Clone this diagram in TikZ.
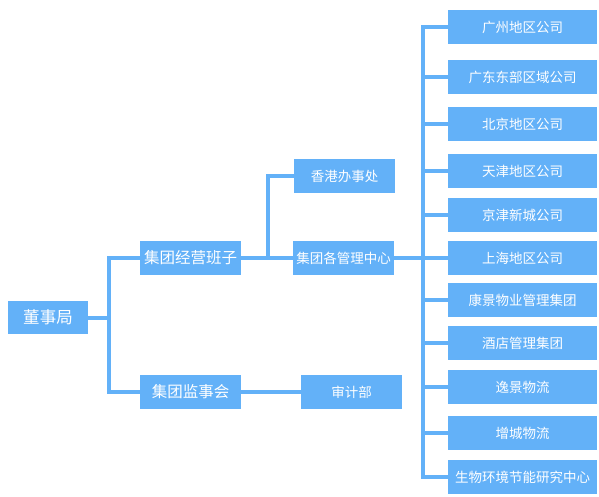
\documentclass[tikz,border=0pt]{standalone}
\usepackage{fontspec}
\setmainfont{Noto Sans CJK SC}
\usepackage{xcolor}
\usepackage{tikz}
\usetikzlibrary{positioning,calc}

\definecolor{boxblue}{RGB}{99,177,248}

\begin{document}
\begin{tikzpicture}[x=1pt, y=-1pt,
  unit/.style={fill=boxblue, text=white, minimum height=34pt, inner sep=0pt, align=center},
  small/.style={unit, minimum width=101pt, font=\fontsize{13.5}{15}\selectfont},
  mid/.style={unit, minimum width=101pt, font=\fontsize{15.5}{17}\selectfont},
  sub/.style={unit, minimum width=149pt, font=\fontsize{13.5}{15}\selectfont},
  link/.style={draw=boxblue, line width=4pt}
]
\useasboundingbox (0,0) rectangle (599,496);
% left part
\node[unit, minimum width=80pt, minimum height=33pt, font=\fontsize{16.5}{18}\selectfont] (board) at (48,317.5) {董事局};
\node[mid] (ops) at (190.5,258) {集团经营班子};
\node[mid] (super) at (190.5,392) {集团监事会};
\node[small] (hk) at (344.5,176) {香港办事处};
\node[small] (centers) at (343.5,258) {集团各管理中心};
\node[small] (audit) at (351.5,392) {审计部};
% subsidiaries
\node[sub] (r1) at (522.5,27) {广州地区公司};
\node[sub] (r2) at (522.5,77) {广东东部区域公司};
\node[sub] (r3) at (522.5,124) {北京地区公司};
\node[sub] (r4) at (522.5,171) {天津地区公司};
\node[sub] (r5) at (522.5,215) {京津新城公司};
\node[sub] (r6) at (522.5,258) {上海地区公司};
\node[sub] (r7) at (522.5,300) {康景物业管理集团};
\node[sub] (r8) at (522.5,343) {酒店管理集团};
\node[sub] (r9) at (522.5,387) {逸景物流};
\node[sub] (r10) at (522.5,433) {增城物流};
\node[sub] (r11) at (522.5,477) {生物环境节能研究中心};
% connectors
\coordinate (j1) at (108.5,317.5);
\coordinate (j2) at (267.5,258);
\coordinate (j3) at (422.5,258);
\draw[link] (board.east) -- (j1);
\draw[link] (ops.west) -| (j1);
\draw[link] (super.west) -| (j1);
\draw[link] (ops.east) -- (centers.west);
\draw[link] (hk.west) -| (j2);
\draw[link] (super.east) -- (audit.west);
\draw[link] (centers.east) -- (r6.west);
\foreach \i in {1,...,11} {
  \draw[link] (r\i.west) -| (j3);
}
\end{tikzpicture}
\end{document}
